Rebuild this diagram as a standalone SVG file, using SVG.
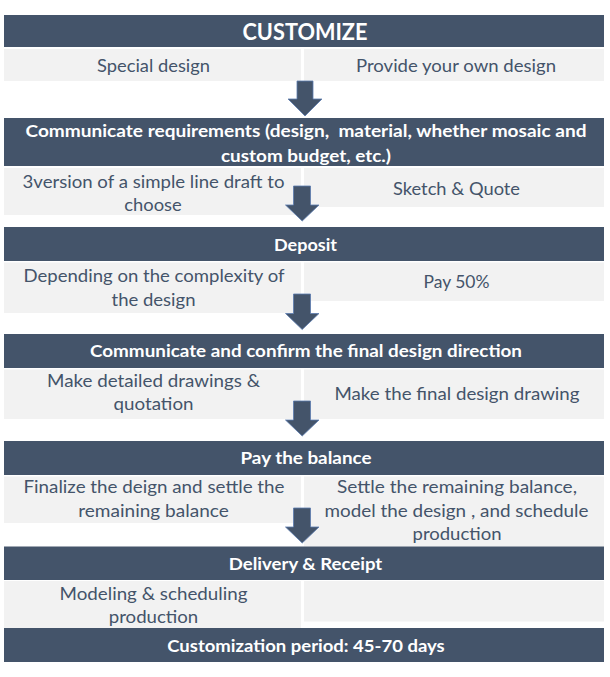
<svg xmlns="http://www.w3.org/2000/svg" width="610" height="677" viewBox="0 0 610 677">
<style>
.bar{fill:#44546A}
.cell{fill:#F2F2F2}
.h{font-family:Lato,"Liberation Sans",sans-serif;font-weight:bold;font-size:17.5px;fill:#FFFFFF;text-anchor:middle}
.t{font-family:Lato,"Liberation Sans",sans-serif;font-size:18px;fill:#44546A;text-anchor:middle}
.arrow{fill:#44546A;stroke:#5B7BAE;stroke-width:0.8}
</style>
<rect width="610" height="677" fill="#FFFFFF"/>
<g id="step-customize">
<rect class="bar" x="4" y="15" width="600" height="32"/>
<text class="h" x="305" y="40" style="font-size:22.5px" textLength="125" lengthAdjust="spacingAndGlyphs">CUSTOMIZE</text>
<rect class="cell" x="4" y="49" width="297" height="32"/>
<rect class="cell" x="304" y="49" width="300" height="32"/>
<text class="t" x="153.5" y="72" textLength="113" lengthAdjust="spacingAndGlyphs">Special design</text>
<text class="t" x="456" y="72" textLength="200" lengthAdjust="spacingAndGlyphs">Provide your own design</text>
</g>
<g id="step-requirements">
<rect class="bar" x="4" y="118" width="600" height="48"/>
<text class="h" x="306" y="137" xml:space="preserve" textLength="561" lengthAdjust="spacingAndGlyphs">Communicate requirements (design,  material, whether mosaic and</text>
<text class="h" x="306" y="161.5" textLength="170" lengthAdjust="spacingAndGlyphs">custom budget, etc.)</text>
<rect class="cell" x="4" y="168" width="297" height="47"/>
<rect class="cell" x="304" y="168" width="300" height="39"/>
<text class="t" x="153.5" y="187.5" textLength="262" lengthAdjust="spacingAndGlyphs">3version of a simple line draft to</text>
<text class="t" x="153" y="210.5" textLength="57.5" lengthAdjust="spacingAndGlyphs">choose</text>
<text class="t" x="456.5" y="195" textLength="127" lengthAdjust="spacingAndGlyphs">Sketch &amp; Quote</text>
</g>
<g id="step-deposit">
<rect class="bar" x="4" y="227" width="600" height="34"/>
<text class="h" x="305.5" y="250.5" textLength="63" lengthAdjust="spacingAndGlyphs">Deposit</text>
<rect class="cell" x="4" y="262.5" width="297" height="50.5"/>
<rect class="cell" x="304" y="262.5" width="300" height="38.5"/>
<text class="t" x="154" y="281.5" textLength="261" lengthAdjust="spacingAndGlyphs">Depending on the complexity of</text>
<text class="t" x="153.5" y="305.5" textLength="84" lengthAdjust="spacingAndGlyphs">the design</text>
<text class="t" x="456.5" y="288" textLength="66" lengthAdjust="spacingAndGlyphs">Pay 50%</text>
</g>
<g id="step-confirm">
<rect class="bar" x="4" y="334" width="600" height="34"/>
<text class="h" x="306" y="357" textLength="432" lengthAdjust="spacingAndGlyphs">Communicate and confirm the final design direction</text>
<rect class="cell" x="4" y="369.5" width="297" height="49.5"/>
<rect class="cell" x="304" y="369.5" width="300" height="49.5"/>
<text class="t" x="153.5" y="386.5" textLength="213" lengthAdjust="spacingAndGlyphs">Make detailed drawings &amp;</text>
<text class="t" x="153.5" y="409.5" textLength="80" lengthAdjust="spacingAndGlyphs">quotation</text>
<text class="t" x="457" y="400" textLength="245" lengthAdjust="spacingAndGlyphs">Make the final design drawing</text>
</g>
<g id="step-balance">
<rect class="bar" x="4" y="441" width="600" height="34"/>
<text class="h" x="306" y="463.5" textLength="131" lengthAdjust="spacingAndGlyphs">Pay the balance</text>
<rect class="cell" x="4" y="476.5" width="297" height="46.5"/>
<rect class="cell" x="304" y="476.5" width="300" height="70"/>
<text class="t" x="154" y="493" textLength="261" lengthAdjust="spacingAndGlyphs">Finalize the deign and settle the</text>
<text class="t" x="153.5" y="517" textLength="150.5" lengthAdjust="spacingAndGlyphs">remaining balance</text>
<text class="t" x="457" y="493" textLength="240" lengthAdjust="spacingAndGlyphs">Settle the remaining balance,</text>
<text class="t" x="456.5" y="517" textLength="264" lengthAdjust="spacingAndGlyphs">model the design , and schedule</text>
<text class="t" x="457" y="540" textLength="89" lengthAdjust="spacingAndGlyphs">production</text>
</g>
<g id="step-delivery">
<rect class="bar" x="4" y="546.5" width="600" height="33.5"/>
<text class="h" x="305.5" y="569.5" textLength="153.5" lengthAdjust="spacingAndGlyphs">Delivery &amp; Receipt</text>
<rect class="cell" x="4" y="581" width="297" height="47"/>
<rect class="cell" x="304" y="581" width="300" height="40.5"/>
<text class="t" x="153.5" y="600" textLength="188" lengthAdjust="spacingAndGlyphs">Modeling &amp; scheduling</text>
<text class="t" x="153.5" y="623" textLength="89.5" lengthAdjust="spacingAndGlyphs">production</text>
</g>
<g id="step-period">
<rect class="bar" x="4" y="628" width="600" height="34"/>
<text class="h" x="306" y="651.5" textLength="277.5" lengthAdjust="spacingAndGlyphs">Customization period: 45-70 days</text>
</g>
<g id="connectors">
<path class="arrow" d="M297,81 H313 V99 H322 L305,116 L288,99 H297 Z"/>
<path class="arrow" d="M293.5,186 H310.5 V205 H319 L302.2,221 L285.5,205 H293.5 Z"/>
<path class="arrow" d="M293.5,294 H310.5 V313.5 H319 L302.2,329.5 L285.5,313.5 H293.5 Z"/>
<path class="arrow" d="M293.5,401 H310.5 V420 H319 L302.2,436 L285.5,420 H293.5 Z"/>
<path class="arrow" d="M293.5,508 H310.5 V527 H319 L302.2,543 L285.5,527 H293.5 Z"/>
</g>
</svg>
